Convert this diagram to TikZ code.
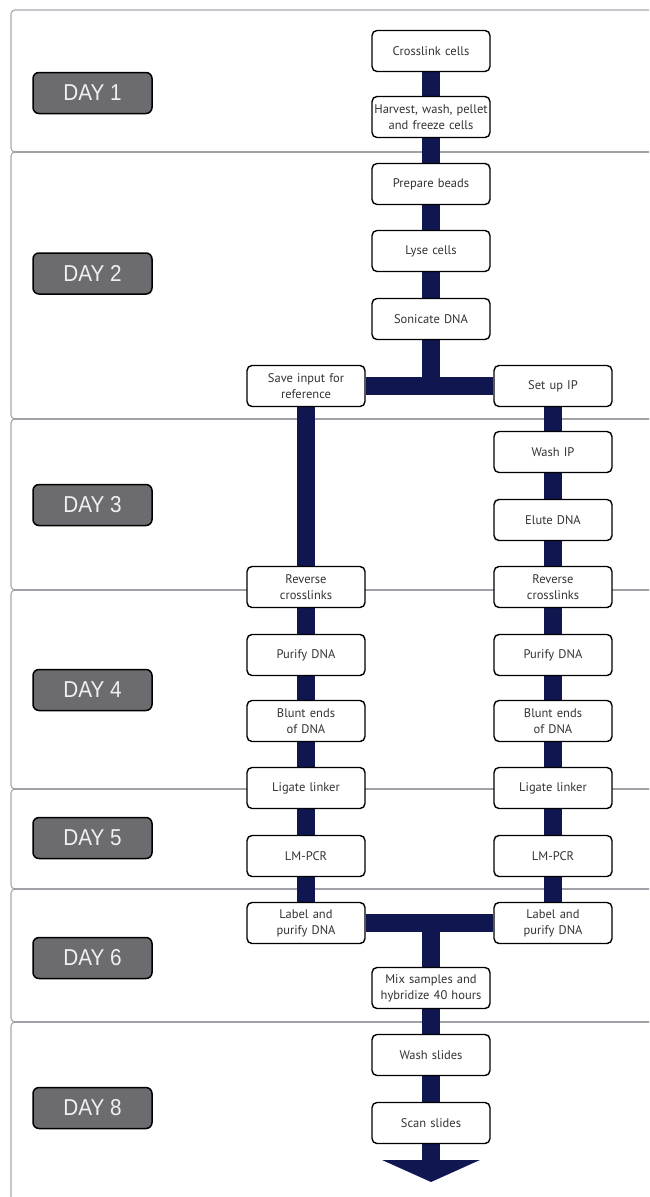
\documentclass[tikz,border=0pt]{standalone}
\usepackage{fontspec}
\setsansfont{PT Sans}
\newfontfamily\dayfont[FakeStretch=0.9]{Liberation Sans}
\usetikzlibrary{arrows.meta}
\definecolor{navy}{RGB}{16,22,80}
\definecolor{daygray}{RGB}{108,108,112}
\definecolor{bandline}{RGB}{80,80,98}
\pgfdeclarelayer{bands}
\pgfdeclarelayer{links}
\pgfsetlayers{bands,links,main}

\begin{document}
\begin{tikzpicture}[x=1pt,y=-1pt,
  stepbox/.style={draw=black,line width=1.4pt,fill=white,rounded corners=5pt,
    minimum width=118pt,minimum height=41pt,text width=114pt,align=center,
    inner sep=0pt,font=\sffamily\fontsize{12.5}{16}\selectfont,text=black!80},
  daybox/.style={draw=black,line width=1.5pt,fill=daygray,rounded corners=6pt,
    minimum width=119pt,minimum height=41pt,inner sep=0pt,
    font=\dayfont\fontsize{23}{24}\selectfont,text=white!94!black},
  link/.style={draw=navy,line width=18pt},
  band/.style={draw=bandline,draw opacity=0.5,line width=1.1pt,rounded corners=4pt}]

\useasboundingbox (0,0) rectangle (649,1197);

% day bands
\begin{pgfonlayer}{bands}
  \clip (0,0) rectangle (649,1197);
  \foreach \a/\b in {10/152,152/419,419/590,590/789,789/889,889/1022,1022/1230}
    \draw[band] (700,\a) -- (11,\a) -- (11,\b) -- (700,\b);
\end{pgfonlayer}

% day labels
\node[daybox] (d1) at (92.5,93) {DAY 1};
\node[daybox] (d2) at (92.5,273.5) {DAY 2};
\node[daybox] (d3) at (92.5,505) {DAY 3};
\node[daybox] (d4) at (92.5,690) {DAY 4};
\node[daybox] (d5) at (92.5,838) {DAY 5};
\node[daybox] (d6) at (92.5,958) {DAY 6};
\node[daybox] (d8) at (92.5,1108) {DAY 8};

% main column
\node[stepbox] (cross)   at (431,51)  {Crosslink cells};
\node[stepbox] (harvest) at (431,117) {Harvest, wash, pellet\\and freeze cells};
\node[stepbox] (beads)   at (431,184) {Prepare beads};
\node[stepbox] (lyse)    at (431,251) {Lyse cells};
\node[stepbox] (sonic)   at (431,319) {Sonicate DNA};

% input branch
\node[stepbox] (save)  at (306,386) {Save input for\\reference};
\node[stepbox] (revL)  at (306,587) {Reverse\\crosslinks};
\node[stepbox] (purL)  at (306,655) {Purify DNA};
\node[stepbox] (bluL)  at (306,721) {Blunt ends\\of DNA};
\node[stepbox] (ligL)  at (306,788) {Ligate linker};
\node[stepbox] (pcrL)  at (306,856) {LM-PCR};
\node[stepbox] (labL)  at (306,923) {Label and\\purify DNA};

% IP branch
\node[stepbox] (setup) at (553,386) {Set up IP};
\node[stepbox] (wip)   at (553,452) {Wash IP};
\node[stepbox] (elute) at (553,520) {Elute DNA};
\node[stepbox] (revR)  at (553,587) {Reverse\\crosslinks};
\node[stepbox] (purR)  at (553,655) {Purify DNA};
\node[stepbox] (bluR)  at (553,721) {Blunt ends\\of DNA};
\node[stepbox] (ligR)  at (553,788) {Ligate linker};
\node[stepbox] (pcrR)  at (553,856) {LM-PCR};
\node[stepbox] (labR)  at (553,923) {Label and\\purify DNA};

% merged column
\node[stepbox] (mix)   at (431,988)  {Mix samples and\\hybridize 40 hours};
\node[stepbox] (wsl)   at (431,1055) {Wash slides};
\node[stepbox] (scan)  at (431,1123) {Scan slides};
\coordinate (tip) at (431,1182);

% connectors
\begin{pgfonlayer}{links}
  \draw[link] (cross.south) -- (harvest.north);
  \draw[link] (harvest.south) -- (beads.north);
  \draw[link] (beads.south) -- (lyse.north);
  \draw[link] (lyse.south) -- (sonic.north);
  \draw[link] (sonic.south) -- (sonic.south |- save.east);
  \draw[link] (save.east) -- (setup.west);
  \draw[link] (save.south) -- (revL.north);
  \draw[link] (revL.south) -- (purL.north);
  \draw[link] (purL.south) -- (bluL.north);
  \draw[link] (bluL.south) -- (ligL.north);
  \draw[link] (ligL.south) -- (pcrL.north);
  \draw[link] (pcrL.south) -- (labL.north);
  \draw[link] (setup.south) -- (wip.north);
  \draw[link] (wip.south) -- (elute.north);
  \draw[link] (elute.south) -- (revR.north);
  \draw[link] (revR.south) -- (purR.north);
  \draw[link] (purR.south) -- (bluR.north);
  \draw[link] (bluR.south) -- (ligR.north);
  \draw[link] (ligR.south) -- (pcrR.north);
  \draw[link] (pcrR.south) -- (labR.north);
  \draw[link] (labL.east) -- (labR.west);
  \draw[link] (mix.north |- labL.east) -- (mix.north);
  \draw[link] (mix.south) -- (wsl.north);
  \draw[link] (wsl.south) -- (scan.north);
  \draw[link,-{Triangle[width=97pt,length=22pt]}] (scan.south) -- (tip);
\end{pgfonlayer}
\end{tikzpicture}
\end{document}
